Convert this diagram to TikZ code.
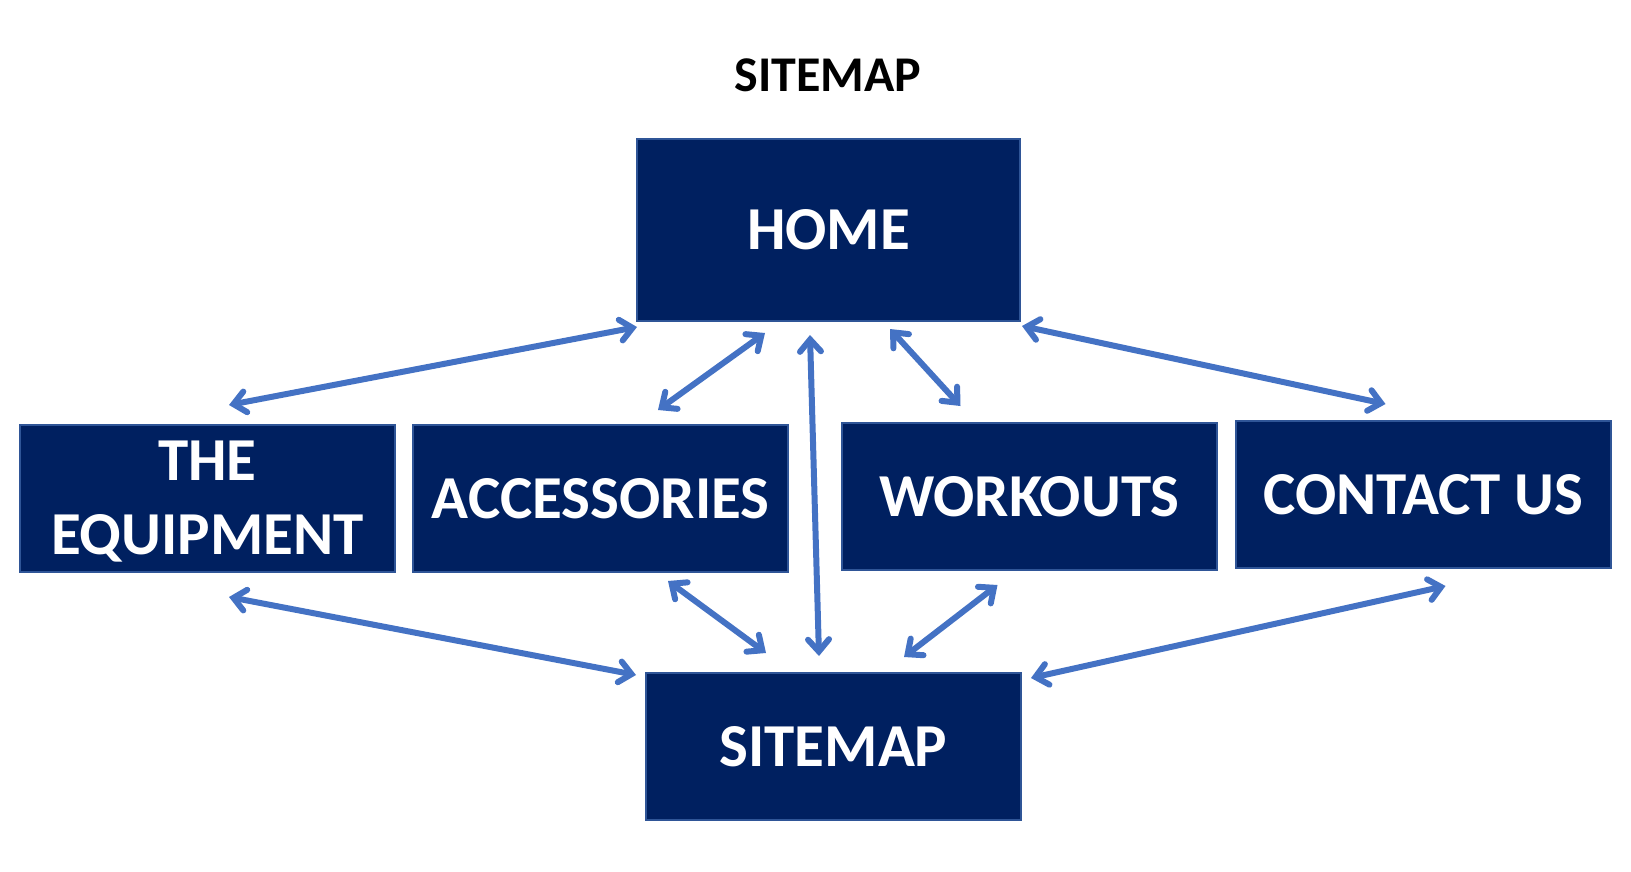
\documentclass[tikz,border=0pt]{standalone}
\usepackage{fontspec}
\setmainfont{Carlito}
\usepackage{tikz}
\usetikzlibrary{arrows.meta,positioning,calc}
\usepackage{xcolor}
\definecolor{navy}{HTML}{002060}
\definecolor{edge}{HTML}{2F5597}
\definecolor{linkblue}{HTML}{4472C4}
\tikzset{
  x=1pt,y=1pt,
  every node/.style={font=\bfseries},
  pagebox/.style={draw=edge,line width=2pt,fill=navy,text=white,minimum width=375pt,minimum height=147pt,
    align=center,inner sep=0pt,outer sep=0pt,font=\fontsize{61}{74}\selectfont\bfseries},
  homebox/.style={pagebox,minimum width=383pt,minimum height=182pt},
  title/.style={text=black,font=\fontsize{50}{60}\selectfont\bfseries},
  link/.style={{Straight Barb[length=12pt,width=21pt,line cap=round]}-{Straight Barb[length=12pt,width=21pt,line cap=round]},
    line width=6pt,draw=linkblue,line cap=round},
}

\begin{document}
\begin{tikzpicture}

\useasboundingbox (0,0) rectangle (1631,-872);

\node[title] (head) at (828,-75.5) {SITEMAP};

% pages
\node[homebox] (home) at (828.5,-230) {HOME};
\node[pagebox] (equip) at (207.5,-498.5) {\rule{0pt}{46pt}THE\\EQUIPMENT};
\node[pagebox,right=18pt of equip] (access) {ACCESSORIES};
\node[pagebox,right=54pt of access,yshift=2pt] (work) {WORKOUTS};
\node[pagebox,right=19pt of work,yshift=2pt] (contact) {CONTACT US};
\node[pagebox] (site) at (833.5,-746.5) {SITEMAP};

% links from home
\draw[link] ($(home.south west)+(0,-6)$) -- ($(equip.north)+(21.5,20)$);
\draw[link] ($(home.south)+(-63.5,-12)$) -- ($(access.north)+(57.5,15)$);
\draw[link] ($(home.south)+(-18.5,-14)$) -- ($(site.north)+(-14.5,17)$);
\draw[link] ($(home.south)+(61.5,-8)$) -- ($(work.north)+(-69,17)$);
\draw[link] ($(home.south east)+(2,-5)$) -- ($(contact.north)+(-38,17)$);

% links to sitemap
\draw[link] ($(equip.south)+(21.5,-25)$) -- ($(site.north west)+(-10,-2)$);
\draw[link] ($(access.south)+(67.5,-9)$) -- ($(site.north)+(-67.5,20)$);
\draw[link] ($(work.south)+(-32,-15)$) -- ($(site.north)+(70.5,16)$);
\draw[link] ($(contact.south)+(22,-18)$) -- ($(site.north east)+(10,-5)$);

\end{tikzpicture}
\end{document}
